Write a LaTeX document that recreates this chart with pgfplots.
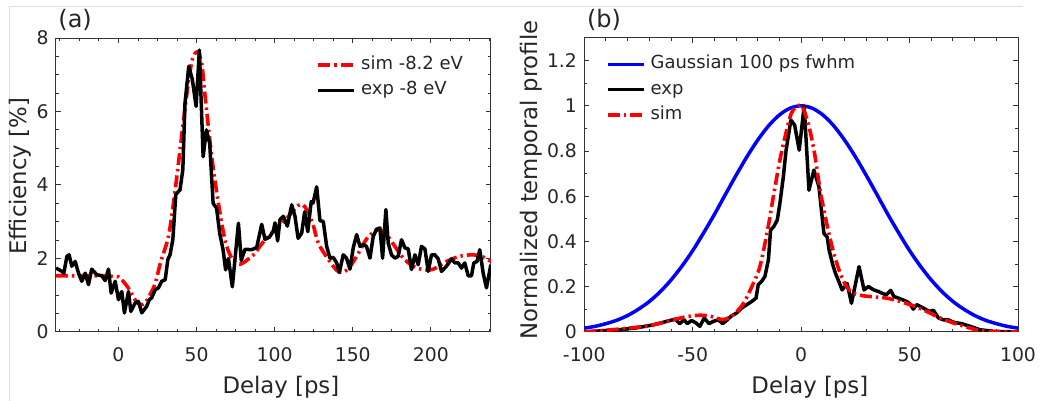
\documentclass[border=0pt]{standalone}
\usepackage{fontspec}
\setmainfont{DejaVu Sans}
\usepackage{pgfplots}
\pgfplotsset{compat=1.18}
\definecolor{txt}{HTML}{262626}
\definecolor{simred}{HTML}{FF0000}
\definecolor{gblue}{HTML}{0000FF}
\pgfplotsset{
  myaxis/.style={
    scale only axis,
    axis line style={black!80, line width=0.5pt},
    tick align=inside,
    major tick length=2.3pt,
    minor tick length=1.3pt,
    every tick/.style={black!80, line width=0.5pt},
    tick label style={font=\fontsize{9.4}{11}\selectfont, text=txt},
    label style={font=\fontsize{11.4}{13}\selectfont, text=txt},
    /pgf/number format/assume math mode=true,
    xticklabel style={anchor=base, yshift=-14.9pt, inner sep=0pt},
    yticklabel style={anchor=east, inner sep=0pt, xshift=-3.5pt},
    legend style={draw=none, fill=none, inner sep=0pt, outer sep=0pt,
      row sep=3.7pt, column sep=2.5pt,
      font=\fontsize{9}{11}\selectfont, text=txt,
      nodes={inner sep=0pt, text height=6.8pt, text depth=2.2pt}},
    legend cell align=left,
    legend image code/.code={\draw[#1] (0pt,0pt) -- (18pt,0pt);},
  },
  simstyle/.style={simred, line width=1.8pt, dash pattern=on 6pt off 2pt on 1.2pt off 2pt},
  expstyle/.style={black, line width=1.75pt, line join=round},
}
\begin{document}
\begin{tikzpicture}
\useasboundingbox (0,0) rectangle (522.5pt,200.5pt);
\draw[gray!25, line width=0.5pt] (4.5pt,0) -- (4.5pt,197pt) -- (511.5pt,197pt);

\begin{axis}[myaxis, name=A,
  at={(28pt,34.5pt)}, anchor=south west,
  width=217.5pt, height=147pt,
  xmin=-40, xmax=238.5, ymin=0, ymax=8,
  xtick={0,50,100,150,200},
  minor xtick={-37.5,-25,-12.5,12.5,25,37.5,62.5,75,87.5,112.5,125,137.5,162.5,175,187.5,212.5,225,237.5},
  ytick={0,2,4,6,8},
  minor ytick={0.5,1,1.5,2.5,3,3.5,4.5,5,5.5,6.5,7,7.5},
  xlabel={Delay [ps]},
  ylabel={Efficiency [\%]},
  xlabel style={at={(axis description cs:0.517,0)}, anchor=base, yshift=-30.8pt},
  ylabel style={at={(axis description cs:0,0.53)}, anchor=center, yshift=18pt},
  legend style={at={(0.599,0.939)}, anchor=north west},
]
\addplot[simstyle, smooth] coordinates {
(-40,1.53) (-20,1.53) (-10,1.53) (-3,1.51) (0,1.5) (3,1.38) (6.4,1.19) (10.7,0.87) (14,0.74) (17,0.8) (20,1.0) (23.5,1.32) (27,1.9) (32,2.6) (35.5,3.6) (38.4,4.59) (42.7,6.13) (46.9,7.35) (50.5,7.62) (53.3,7.3) (55.5,6.4) (59.7,4.77) (64,3.5) (68.2,2.5) (72,2.05) (76,1.86) (79,1.86) (83,1.98) (87.4,2.14) (91,2.36) (96,2.6) (101.3,2.83) (108.7,3.14) (115,3.44) (118,3.46) (121,3.3) (124.7,2.9) (128,2.41) (134.3,1.98) (139.7,1.68) (143,1.62) (147,1.71) (152.5,2.06) (158.8,2.53) (164.2,2.74) (167.4,2.78) (171.6,2.65) (177,2.33) (182.3,2.01) (188.7,1.79) (195,1.7) (201.5,1.71) (210,1.92) (218.5,2.06) (227,2.1) (233.5,2.04) (238.5,1.92)
};
\addlegendentry{sim -8.2 eV}
\addplot[expstyle] coordinates {
(-40,1.74) (-36.2,1.65) (-35,1.6) (-33,2.06) (-31.6,2.1) (-29.9,1.79) (-27.7,1.92) (-25.6,1.6) (-23.5,1.38) (-21.3,1.6) (-19.2,1.29) (-17.1,1.71) (-13.9,1.56) (-10.7,1.53) (-8.5,1.4) (-6.4,1.71) (-4.7,1.06) (-2.1,1.38) (0,0.88) (2.1,1.1) (3.8,0.52) (6.4,1.1) (7.9,0.56) (10.7,0.79) (12.8,0.83) (14.9,0.52) (18.1,0.7) (19.8,0.88) (21.3,0.93) (23.5,1.15) (25.6,1.2) (27.7,1.38) (29.9,1.42) (31.6,1.97) (33,2.1) (34.8,2.51) (36.7,3.74) (39.4,3.87) (41.2,4.42) (42.6,6.23) (45,7.23) (47.3,6.87) (49.7,6.14) (51.8,7.67) (54.2,4.77) (56.3,5.5) (58.4,5.13) (60.6,3.5) (62.8,3.37) (64.8,2.69) (67,2.23) (68.6,1.69) (70.4,2.0) (72.9,1.23) (76.8,2.96) (78.6,1.95) (81,2.25) (85.3,2.24) (88.5,2.3) (91.7,2.93) (93.8,2.52) (96.6,2.58) (99.1,2.74) (100.2,2.97) (101.9,2.48) (103.4,3.06) (105.5,3.15) (108.1,2.88) (110.9,3.46) (113,3.15) (115,2.55) (117.3,2.69) (119.2,3.27) (121.2,2.73) (123.4,3.55) (124.6,3.51) (126.9,3.95) (129,3.03) (131.1,3.01) (133.3,2.33) (135.4,2.01) (137.5,2.03) (139.7,1.88) (141.4,1.62) (143.9,2.1) (146,2.01) (148.2,1.71) (150.3,2.29) (152.5,2.65) (154.6,2.33) (156.7,2.38) (158.8,2.33) (161,2.01) (163.1,2.6) (165.2,2.8) (167.4,2.83) (169.1,2.01) (171.2,3.33) (172.7,2.42) (174.8,2.1) (177,2.01) (179.1,2.06) (181.2,2.51) (183.4,2.29) (185.5,2.26) (187.6,1.7) (189.8,2.1) (191.9,1.83) (194,2.33) (196.2,2.26) (198.3,1.65) (200.4,2.1) (202.6,2.1) (204.7,1.99) (206.8,1.65) (210,1.79) (213.2,1.99) (215.4,1.88) (217.5,1.88) (219.6,1.74) (221.7,1.88) (223.9,1.53) (226,1.53) (227.5,1.88) (229.6,1.92) (231.3,2.24) (233.5,1.6) (235.6,1.2) (238.4,1.83)
};
\addlegendentry{exp -8 eV}
\end{axis}
\node[anchor=base west, font=\fontsize{12}{14}\selectfont, text=txt, inner sep=0pt] at ([xshift=1pt,yshift=5pt]A.north west) {(a)};

\begin{axis}[myaxis, name=B,
  at={(292.15pt,34.5pt)}, anchor=south west,
  width=216.85pt, height=147pt,
  xmin=-100, xmax=100, ymin=0, ymax=1.3,
  xtick={-100,-50,0,50,100},
  minor xtick={-90,-80,-70,-60,-40,-30,-20,-10,10,20,30,40,60,70,80,90},
  ytick={0,0.2,0.4,0.6,0.8,1,1.2},
  minor ytick={0.1,0.3,0.5,0.7,0.9,1.1},
  yticklabel style={/pgf/number format/fixed},
  xlabel={Delay [ps]},
  ylabel={Normalized temporal profile},
  xlabel style={at={(axis description cs:0.52,0)}, anchor=base, yshift=-30.8pt},
  ylabel style={at={(axis description cs:0,0.517)}, anchor=center, yshift=26.65pt},
  legend style={at={(0.05,0.941)}, anchor=north west},
]
\addplot[gblue, line width=1.75pt, smooth] coordinates {
(-100,0.017) (-95,0.025) (-90,0.037) (-85,0.052) (-80,0.073) (-75,0.101) (-70,0.135) (-65,0.178) (-60,0.230) (-55,0.291) (-50,0.360) (-45,0.438) (-40,0.520) (-35,0.607) (-30,0.693) (-25,0.775) (-20,0.849) (-15,0.912) (-10,0.960) (-5,0.990) (0,1.0) (5,0.990) (10,0.960) (15,0.912) (20,0.849) (25,0.775) (30,0.693) (35,0.607) (40,0.520) (45,0.438) (50,0.360) (55,0.291) (60,0.230) (65,0.178) (70,0.135) (75,0.101) (80,0.073) (85,0.052) (90,0.037) (95,0.025) (100,0.017)
};
\addlegendentry{Gaussian 100 ps fwhm}
\addplot[expstyle] coordinates {
(-100,0) (-91,0.006) (-84,0.01) (-76,0.018) (-68,0.032) (-62,0.047) (-58,0.057) (-56,0.037) (-54,0.054) (-52.5,0.037) (-50.5,0.051) (-48.5,0.04) (-46.7,0.025) (-44.7,0.062) (-42.5,0.037) (-40.5,0.047) (-38.2,0.054) (-36.2,0.037) (-34.4,0.051) (-32,0.072) (-29.7,0.084) (-27.4,0.106) (-25,0.121) (-22.8,0.135) (-20.8,0.15) (-19.8,0.209) (-18.2,0.224) (-16.7,0.246) (-15.1,0.319) (-14.1,0.451) (-12.6,0.466) (-11,0.496) (-9.8,0.569) (-8.2,0.687) (-7,0.8) (-4.75,0.937) (-3,0.915) (-0.9,0.804) (1.4,1.0) (3.6,0.627) (5.9,0.716) (8.2,0.642) (10.5,0.436) (12,0.42) (12.9,0.362) (14.5,0.30) (15.8,0.26) (17.5,0.22) (18.9,0.186) (21.2,0.215) (23.2,0.127) (26.7,0.289) (29,0.186) (31,0.201) (33.3,0.187) (35.6,0.179) (37.9,0.169) (39.4,0.165) (41.3,0.184) (42.8,0.157) (45.6,0.147) (48.7,0.135) (50.2,0.125) (51.7,0.101) (53.3,0.121) (56.3,0.106) (59.1,0.091) (61,0.096) (63.3,0.062) (65.6,0.054) (67.9,0.054) (70.2,0.043) (74,0.037) (77.9,0.025) (82.5,0.01) (88.6,0.003) (100,0)
};
\addlegendentry{exp}
\addplot[simstyle, smooth] coordinates {
(-100,0) (-85,0.012) (-75,0.022) (-68,0.032) (-59,0.054) (-53,0.067) (-47,0.074) (-42,0.07) (-36,0.055) (-31.3,0.076) (-26.7,0.125) (-22.3,0.21) (-19,0.29) (-15.5,0.45) (-12.8,0.6) (-9.8,0.76) (-7,0.88) (-4.4,0.97) (-1.5,1.0) (0.5,0.998) (3.3,0.92) (6,0.8) (8.7,0.63) (12,0.47) (15,0.35) (18,0.26) (21,0.2) (24,0.172) (28.7,0.16) (34.8,0.154) (39.4,0.15) (45.6,0.135) (51.7,0.116) (57.9,0.091) (64,0.062) (70.2,0.04) (76.3,0.022) (82.5,0.006) (88.6,0.001) (100,0)
};
\addlegendentry{sim}
\end{axis}
\node[anchor=base west, font=\fontsize{12}{14}\selectfont, text=txt, inner sep=0pt] at ([xshift=1.2pt,yshift=5pt]B.north west) {(b)};
\end{tikzpicture}
\end{document}
